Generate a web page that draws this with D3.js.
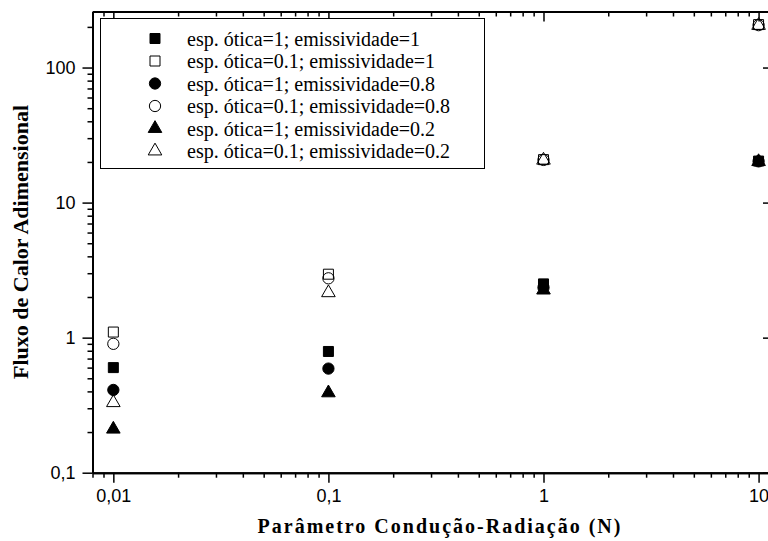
<!DOCTYPE html>
<html>
<head>
<meta charset="utf-8">
<script src="https://cdn.jsdelivr.net/npm/d3@7"></script>
<style>
	body { margin: 0; background: #fff; }
	svg { display: block; }
	.axis path, .axis line { stroke: #000; }
	.axis text { font-family: "Liberation Sans", Arial, sans-serif; font-size: 18px; fill: #000; }
</style>
</head>
<body>
<svg id="chart" width="768" height="541"></svg>
<script>

// valores
var N = [0.01, 0.1, 1, 10]
var tau1_eps1 = [0.6, 0.79, 2.5, 20.3]
var tau01_eps1 = [1.1, 2.95, 20.8, 208]
var tau1_eps08 = [0.41, 0.59, 2.35, 20.2]
var tau01_eps08 = [0.9, 2.75, 20.7, 206]
var tau1_eps02 = [0.21, 0.39, 2.25, 20.1]
var tau01_eps02 = [0.33, 2.15, 20.6, 205]

var legendLabels = [
	"esp. ótica=1; emissividade=1",
	"esp. ótica=0.1; emissividade=1",
	"esp. ótica=1; emissividade=0.8",
	"esp. ótica=0.1; emissividade=0.8",
	"esp. ótica=1; emissividade=0.2",
	"esp. ótica=0.1; emissividade=0.2"
]

var xMajor = [0.01, 0.1, 1, 10]
var xMajorLabels = ["0,01", "0,1", "1", "10"]
var yMajor = [0.1, 1, 10, 100]
var yMajorLabels = ["0,1", "1", "10", "100"]

var series = [
	{ values: tau1_eps1, shape: d3.symbolSquare, size: 100, filled: true },
	{ values: tau01_eps1, shape: d3.symbolSquare, size: 100, filled: false },
	{ values: tau1_eps08, shape: d3.symbolCircle, size: 100, filled: true },
	{ values: tau01_eps08, shape: d3.symbolCircle, size: 100, filled: false },
	{ values: tau1_eps02, shape: d3.symbolTriangle, size: 80, filled: true },
	{ values: tau01_eps02, shape: d3.symbolTriangle, size: 80, filled: false }
]

var plotLeft = 92.5, plotRight = 773, plotTop = 11.5, plotBottom = 472.7

var x = d3.scaleLog().domain([0.008, 11.67]).range([plotLeft, plotRight])
var y = d3.scaleLog().domain([0.1, 260]).range([plotBottom, plotTop])

// minor ticks 2..9 de cada decada
function minors(scale) {
	var d = scale.domain(), out = []
	for (var e = -3; e <= 3; e++) {
		for (var k = 2; k <= 9; k++) {
			var v = k * Math.pow(10, e)
			if (v >= d[0] && v <= d[1]) out.push(v)
		}
	}
	return out
}

var svg = d3.select("#chart")

function drawAxis(gen, tx, ty, vals, labels, size) {
	var g = svg.append("g")
		.attr("class", "axis")
		.attr("transform", "translate(" + tx + "," + ty + ")")
		.call(gen.tickValues(vals)
			.tickSize(size)
			.tickSizeOuter(0)
			.tickPadding(labels ? 7 : 0)
			.tickFormat(function (d, i) { return labels ? labels[i] : "" }))
	g.select(".domain").attr("stroke-width", 2)
	g.selectAll(".tick line").attr("stroke-width", 1.5)
	return g
}

// eixo inferior e superior
drawAxis(d3.axisBottom(x), 0, plotBottom, minors(x), null, 5)
drawAxis(d3.axisBottom(x), 0, plotBottom, xMajor, xMajorLabels, 10)
drawAxis(d3.axisTop(x), 0, plotTop, minors(x), null, -5)
drawAxis(d3.axisTop(x), 0, plotTop, xMajor, null, -10)

// eixo esquerdo e direito
drawAxis(d3.axisLeft(y), plotLeft, 0, minors(y), null, 5)
drawAxis(d3.axisLeft(y), plotLeft, 0, yMajor, yMajorLabels, 10)
drawAxis(d3.axisRight(y), plotRight, 0, minors(y), null, -5)
drawAxis(d3.axisRight(y), plotRight, 0, yMajor, null, -10)

// pontos
series.forEach(function (s) {
	svg.append("g").selectAll("path")
		.data(s.values)
		.enter().append("path")
		.attr("transform", function (d, i) { return "translate(" + x(N[i]) + "," + y(d) + ")" })
		.attr("d", d3.symbol().type(s.shape).size(s.size))
		.attr("fill", s.filled ? "#000" : "none")
		.attr("stroke", "#000")
		.attr("stroke-width", 1)
})

// legenda
var legend = svg.append("g")
legend.append("rect")
	.attr("x", 100.5).attr("y", 18.5)
	.attr("width", 384).attr("height", 150)
	.attr("fill", "#fff").attr("stroke", "#000").attr("stroke-width", 1)

var rows = legend.selectAll("g.row")
	.data(series)
	.enter().append("g")
	.attr("class", "row")
	.attr("transform", function (d, i) { return "translate(155," + (38.5 + i * 22.5) + ")" })

rows.append("path")
	.attr("d", function (d) { return d3.symbol().type(d.shape).size(d.size)() })
	.attr("fill", function (d) { return d.filled ? "#000" : "none" })
	.attr("stroke", "#000")

rows.append("text")
	.attr("x", 32)
	.attr("dy", "0.35em")
	.style("font-family", "'Liberation Serif', 'Times New Roman', serif")
	.style("font-size", "20px")
	.text(function (d, i) { return legendLabels[i] })

// titulos dos eixos
svg.append("text")
	.attr("x", 440).attr("y", 533)
	.attr("text-anchor", "middle")
	.style("font-family", "'Liberation Serif', 'Times New Roman', serif")
	.style("font-weight", "bold")
	.style("font-size", "20px")
	.style("letter-spacing", "2px")
	.text("Parâmetro Condução-Radiação (N)")

svg.append("text")
	.attr("transform", "translate(28,242) rotate(-90)")
	.attr("text-anchor", "middle")
	.style("font-family", "'Liberation Serif', 'Times New Roman', serif")
	.style("font-weight", "bold")
	.style("font-size", "22px")
	.text("Fluxo de Calor Adimensional")

</script>
</body>
</html>
